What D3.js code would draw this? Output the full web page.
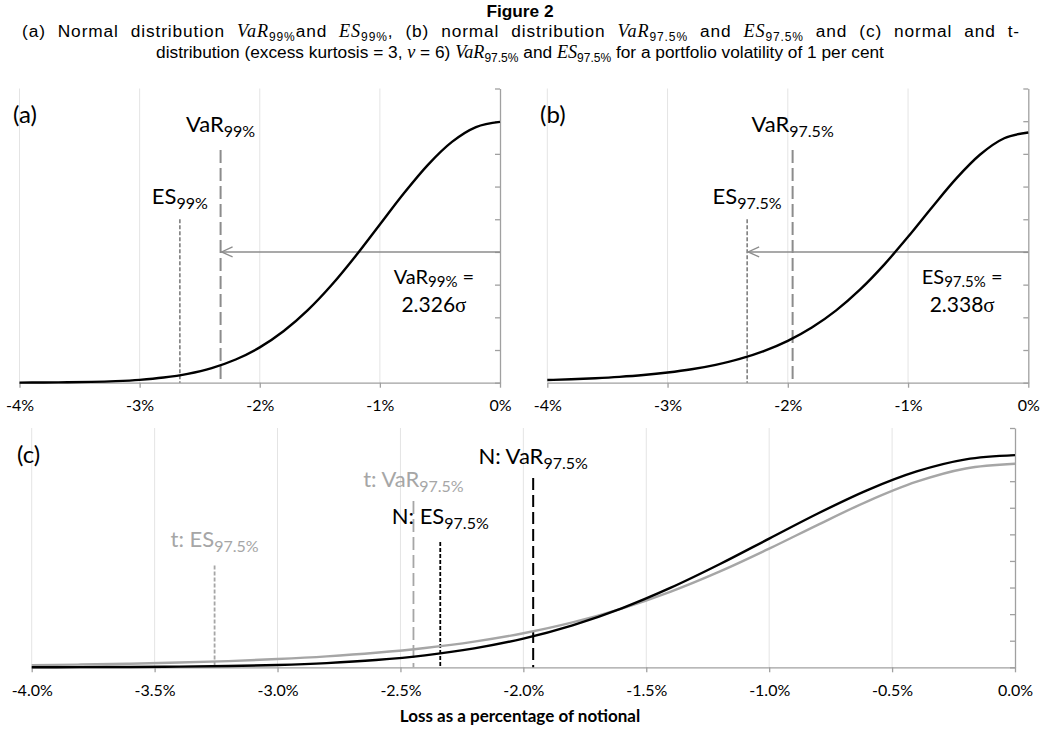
<!DOCTYPE html>
<html><head><meta charset="utf-8">
<script src="https://cdn.jsdelivr.net/npm/d3@7"></script>
<style>body{margin:0;background:#fff} svg{display:block}</style>
</head><body>
<svg id="chart" width="1041" height="733"></svg>
<script>
// ---------- data ----------
const xGrid = [-4.0,-3.8,-3.6,-3.4,-3.2,-3.0,-2.8,-2.6,-2.4,-2.2,-2.0,-1.8,-1.6,-1.4,-1.2,-1.0,-0.8,-0.6,-0.4,-0.2,0.0];
const normalDensity = [0.0001,0.0003,0.0006,0.0012,0.0024,0.0044,0.0079,0.0136,0.0224,0.0355,0.0540,0.0790,0.1109,0.1497,0.1942,0.2420,0.2897,0.3332,0.3683,0.3910,0.3989];
const tDensity = [0.0041,0.0052,0.0068,0.0089,0.0117,0.0155,0.0205,0.0273,0.0363,0.0483,0.0640,0.0844,0.1103,0.1423,0.1803,0.2231,0.2684,0.3121,0.3490,0.3739,0.3827];
const xTicksAB = [-4,-3,-2,-1,0];
const xTicksC = [-4,-3.5,-3,-2.5,-2,-1.5,-1,-0.5,0];
const yTicks = [0,0.05,0.10,0.15,0.20,0.25,0.30,0.35,0.40,0.45];
// risk measures (% of notional): [VaR, ES]
const panelA = [-2.326, -2.665];          // normal 99%
const panelB = [-1.960, -2.338];          // normal 97.5%
const panelCNormal = [-1.960, -2.338];    // normal 97.5%
const panelCT = [-2.447, -3.256];         // t (nu = 6) 97.5%
const multipliers = ["2.326", "2.338"];

// ---------- setup ----------
const svg = d3.select('#chart');
svg.append('rect').attr('width',1041).attr('height',733).attr('fill','#fff');
const FONT = 'Lato, "Open Sans", sans-serif';
const SANS = '"Liberation Sans", Arial, sans-serif';
const AXC = '#a0a0a0';
const GRIDC = '#e4e4e4';

const yMax = 0.45;
const xA = d3.scaleLinear().domain([-4,0]).range([19.5,500]);
const xB = d3.scaleLinear().domain([-4,0]).range([547.3,1028.3]);
const yAB = d3.scaleLinear().domain([0,yMax]).range([382.7,88.5]);
const xC = d3.scaleLinear().domain([-4,0]).range([31.7,1015]);
const yC = d3.scaleLinear().domain([0,yMax]).range([667.3,428]);

function frame(x, y, ticks, fmt) {
  svg.append('g').selectAll('line').data(ticks.filter(d => d < 0)).join('line')
    .attr('x1', d => x(d)).attr('x2', d => x(d))
    .attr('y1', y(0)).attr('y2', y(yMax))
    .attr('stroke', GRIDC).attr('stroke-width', 1);
  const ax = svg.append('g').attr('transform', `translate(0,${y(0)})`)
    .call(d3.axisBottom(x).tickValues(ticks).tickSize(5).tickSizeOuter(0).tickPadding(12).tickFormat(fmt));
  ax.select('.domain').attr('stroke', AXC).attr('stroke-width', 1.3);
  ax.selectAll('.tick line').attr('stroke', AXC).attr('stroke-width', 1.3);
  ax.selectAll('text').attr('font-family', FONT).attr('font-size', 16).attr('fill', '#000');
  const ay = svg.append('g').attr('transform', `translate(${x(0)},0)`)
    .call(d3.axisLeft(y).tickValues(yTicks).tickSize(5).tickSizeOuter(0).tickFormat(''));
  ay.select('.domain').attr('stroke', AXC).attr('stroke-width', 1.3);
  ay.selectAll('.tick line').attr('stroke', AXC).attr('stroke-width', 1.3);
}

function curve(x, y, values, color, w) {
  const line = d3.line().x((d, i) => x(xGrid[i])).y(d => y(d)).curve(d3.curveMonotoneX);
  svg.append('path').datum(values).attr('d', line)
    .attr('fill', 'none').attr('stroke', color).attr('stroke-width', w).attr('stroke-linejoin','round');
}

function vline(x, y, v, top, color, w, dash) {
  svg.append('line').attr('x1', x(v)).attr('x2', x(v)).attr('y1', y(top)).attr('y2', y(0))
    .attr('stroke', color).attr('stroke-width', w).attr('stroke-dasharray', dash);
}

// rich text: segments [text, kind] kind: n normal, i italic serif, s subscript, g greek serif
function rich(xp, yp, segs, o) {
  const t = svg.append('text').attr('x', xp).attr('y', yp)
    .attr('text-anchor', o.anchor || 'middle').attr('font-family', o.font || FONT)
    .attr('font-size', o.size).attr('fill', o.color || '#000')
    .attr('font-weight', o.weight || 'normal');
  let shifted = false;
  segs.forEach(([txt, kind]) => {
    const sp = t.append('tspan').text(txt);
    if (kind === 's') {
      sp.attr('font-size', o.sub).attr('dy', shifted ? 0 : o.shift);
      shifted = true;
    } else {
      if (shifted) { sp.attr('dy', -o.shift); shifted = false; }
      if (kind === 'i') sp.attr('font-family', '"Liberation Serif", "DejaVu Serif", serif').attr('font-style', 'italic').attr('font-size', o.size * 1.05);
      if (kind === 'g') sp.attr('font-family', '"Liberation Serif", serif');
    }
  });
  return t;
}

function arrow(x, y, fromV, toV, level, color) {
  const y0 = y(level), x0 = x(fromV), x1 = x(toV);
  svg.append('line').attr('x1', x0).attr('x2', x1).attr('y1', y0).attr('y2', y0)
    .attr('stroke', color).attr('stroke-width', 1.4);
  svg.append('path').attr('d', `M${x1 + 12},${y0 - 5} L${x1 + 1},${y0} L${x1 + 12},${y0 + 5}`)
    .attr('fill', 'none').attr('stroke', color).attr('stroke-width', 1.3);
}

const fmtAB = d => d + '%';
const fmtC = d => d.toFixed(1) + '%';

// ---------- title ----------
svg.append('text').attr('x', 520).attr('y', 17).attr('text-anchor', 'middle')
  .attr('font-family', SANS).attr('font-weight', 'bold')
  .attr('font-size', 17.3).text('Figure 2');
const stOpt = {size: 17.3, sub: 12, shift: 4, font: SANS};
// first line is justified across the full width (22 .. 1020)
const line1 = rich(22, 37, [['(a) Normal distribution ','n'],['VaR','i'],['99%','s'],['and ','n'],['ES','i'],['99%','s'],
  [', (b) normal distribution ','n'],['VaR','i'],['97.5%','s'],[' and ','n'],['ES','i'],['97.5%','s'],[' and (c) normal and t-','n']],
  Object.assign({anchor: 'start'}, stOpt));
{
  const natural = line1.node().getComputedTextLength();
  const txt = line1.text();
  const spaces = (txt.match(/ /g) || []).length;
  const extra = Math.max(0, 998 - natural);
  const ls = 0.5 * extra / (txt.length - 1);
  line1.attr('letter-spacing', ls);
  const after = line1.node().getComputedTextLength();
  line1.attr('word-spacing', Math.max(0, (998 - after) / spaces));
}
rich(520, 58, [['distribution (excess kurtosis = 3, ','n'],['ν','i'],[' = 6) ','n'],['VaR','i'],['97.5%','s'],[' and ','n'],['ES','i'],['97.5%','s'],
  [' for a portfolio volatility of 1 per cent','n']], stOpt);

// ---------- panel (a) ----------
frame(xA, yAB, xTicksAB, fmtAB);
vline(xA, yAB, panelA[1], 0.250, '#7f7f7f', 1.6, '4,2');
vline(xA, yAB, panelA[0], 0.356, '#8c8c8c', 2, '13,5');
arrow(xA, yAB, 0, panelA[0], 0.20, '#8c8c8c');
curve(xA, yAB, normalDensity, '#000', 2.4);
const lab = {size: 22, sub: 16, shift: 5};
rich(xA(panelA[0]), yAB(0.384), [['VaR','n'],['99%','s']], lab);
rich(xA(panelA[1]), yAB(0.2726), [['ES','n'],['99%','s']], lab);
rich(xA(-0.55), yAB(0.151), [['VaR','n'],['99%','s'],[' =','n']], {size: 20, sub: 15, shift: 3});
rich(xA(-0.55), yAB(0.108), [[multipliers[0],'n'],['σ','g']], {size: 21});
svg.append('text').attr('x', 13).attr('y', 123).attr('font-family', FONT).attr('font-size', 24).text('(a)');

// ---------- panel (b) ----------
frame(xB, yAB, xTicksAB, fmtAB);
vline(xB, yAB, panelB[1], 0.250, '#7f7f7f', 1.6, '4,2');
vline(xB, yAB, panelB[0], 0.356, '#8c8c8c', 2, '13,5');
arrow(xB, yAB, 0, panelB[1], 0.20, '#8c8c8c');
curve(xB, yAB, tDensity, '#000', 2.4);
rich(xB(panelB[0]), yAB(0.384), [['VaR','n'],['97.5%','s']], lab);
rich(xB(panelB[1]), yAB(0.2726), [['ES','n'],['97.5%','s']], lab);
rich(xB(-0.55), yAB(0.151), [['ES','n'],['97.5%','s'],[' =','n']], {size: 20, sub: 15, shift: 3});
rich(xB(-0.55), yAB(0.108), [[multipliers[1],'n'],['σ','g']], {size: 21});
svg.append('text').attr('x', 540).attr('y', 123).attr('font-family', FONT).attr('font-size', 24).text('(b)');

// ---------- panel (c) ----------
frame(xC, yC, xTicksC, fmtC);
vline(xC, yC, panelCT[1], 0.1916, '#a6a6a6', 1.8, '4,2');
vline(xC, yC, panelCT[0], 0.3127, '#a6a6a6', 1.8, '13,5');
vline(xC, yC, panelCNormal[1], 0.2356, '#000', 1.8, '4,2');
vline(xC, yC, panelCNormal[0], 0.356, '#000', 2, '12,5');
curve(xC, yC, tDensity, '#a6a6a6', 2.4);
curve(xC, yC, normalDensity, '#000', 2.4);
rich(xC(panelCNormal[0]), yC(0.383), [['N: VaR','n'],['97.5%','s']], lab);
rich(xC(panelCT[0]), yC(0.3394), [['t: VaR','n'],['97.5%','s']], Object.assign({color: '#a6a6a6'}, lab));
rich(xC(panelCNormal[1]), yC(0.2689), [['N: ES','n'],['97.5%','s']], lab);
rich(xC(panelCT[1]), yC(0.2253), [['t: ES','n'],['97.5%','s']], Object.assign({color: '#a6a6a6'}, lab));
svg.append('text').attr('x', 17).attr('y', 463).attr('font-family', FONT).attr('font-size', 24).text('(c)');

svg.append('text').attr('x', 520).attr('y', 722).attr('text-anchor', 'middle')
  .attr('font-family', FONT).attr('font-weight', 'bold').attr('font-size', 17)
  .text('Loss as a percentage of notional');
</script>
</body></html>
